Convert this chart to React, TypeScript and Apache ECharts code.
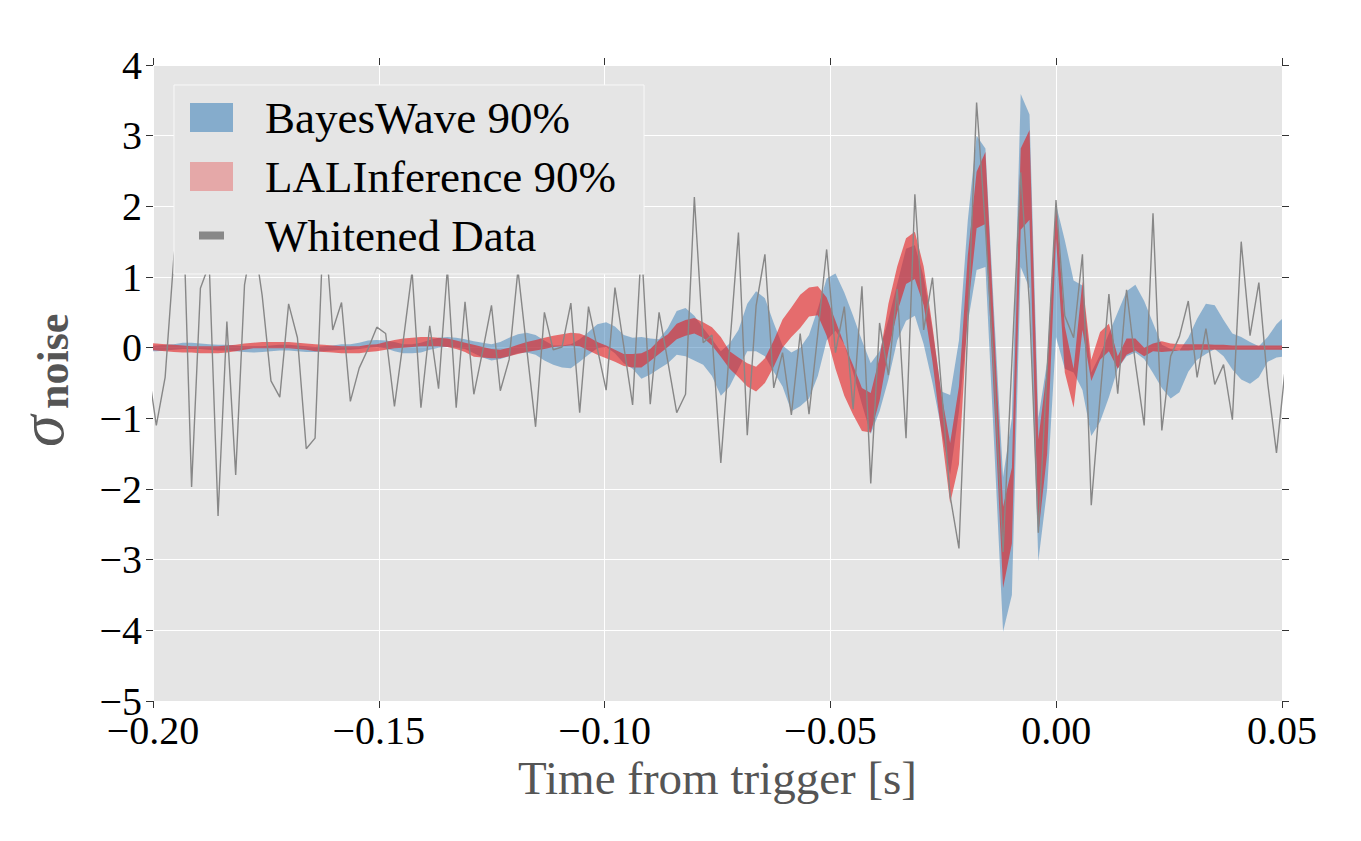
import React, { useEffect, useRef } from "react";
import * as echarts from "echarts";

// Sampling of the whitened strain time series (one sample every 1/512 s)
const T_START = -0.20122;
const SAMPLE_RATE = 512;

const whitened = [
  -0.23, -1.10, -0.42, 1.30, 2.15, -1.97, 0.84, 1.18, -2.38, 0.37,
  -1.80, 0.89, 1.60, 0.74, -0.47, -0.70, 0.62, 0.14, -1.43, -1.28,
  1.90, 0.25, 0.64, -0.76, -0.29, -0.02, 0.29, 0.20, -0.83, 0.10,
  1.08, -0.85, 0.31, -0.58, 1.12, -0.85, 0.65, -0.66, -0.05, 0.60,
  -0.61, -0.17, 1.10, -0.02, -1.12, 0.50, -0.03, 0.01, 0.63, -0.92,
  0.58, -0.01, -0.60, 0.85, 0.02, -0.81, 1.44, -0.80, 0.50, -0.20,
  -0.92, -0.66, 2.13, 0.07, 0.18, -1.63, 0.00, 1.63, -1.24, 0.59,
  1.32, -0.57, -0.07, -0.95, 0.20, -0.94, 0.20, 1.39, -0.07, 0.58,
  -0.87, 0.87, -1.92, 0.35, -0.39, 0.83, -1.28, 2.17, 0.25, 0.99,
  -0.55, -2.10, -2.84, 0.30, 3.47, 1.70, -0.40, -2.89, -0.20, 2.48,
  0.60, -2.62, -0.30, 2.09, 0.45, 0.14, 1.32, -2.23, -0.70, 0.76,
  -0.65, 0.82, -0.22, -1.10, 1.90, -1.17, -0.12, 0.16, 0.66, -0.42,
  0.27, -0.52, -0.24, -1.02, 1.50, 0.17, 0.92, -0.50, -1.49, -0.28,
];

const bayesWaveLower = [
  -0.05, -0.05, -0.04, -0.03, -0.02, -0.02, -0.02, -0.03, -0.04, -0.04,
  -0.05, -0.06, -0.07, -0.06, -0.05, -0.04, -0.04, -0.05, -0.06, -0.06,
  -0.05, -0.04, -0.03, -0.03, -0.02, 0.00, 0.01, -0.01, -0.05, -0.08,
  -0.08, -0.07, -0.03, 0.00, 0.01, 0.00, -0.02, -0.08, -0.14, -0.18,
  -0.16, -0.12, -0.08, -0.07, -0.10, -0.18, -0.24, -0.28, -0.29, -0.20,
  -0.10, -0.01, 0.01, -0.08, -0.22, -0.30, -0.44, -0.38, -0.30, -0.22,
  -0.10, -0.12, -0.18, -0.24, -0.40, -0.68, -0.55, -0.30, -0.05, -0.05,
  -0.12, -0.34, -0.55, -0.90, -0.83, -0.72, -0.40, 0.10, 0.24, 0.05,
  -0.35, -0.80, -1.22, -0.90, -0.45, 0.10, 0.38, 0.45, 0.05, -0.50,
  -1.15, -1.80, -0.90, 0.35, 1.10, 1.14, -1.40, -4.02, -3.50, 1.14,
  0.84, -3.02, -2.00, 0.15, -0.30, -0.35, -0.60, -1.25, -1.05, -0.70,
  -0.30, -0.12, -0.07, -0.16, -0.36, -0.57, -0.72, -0.63, -0.34, -0.17,
  -0.09, -0.02, -0.12, -0.31, -0.45, -0.51, -0.42, -0.20, -0.14, -0.12,
];

const bayesWaveUpper = [
  0.02, 0.03, 0.04, 0.05, 0.07, 0.07, 0.06, 0.05, 0.04, 0.04,
  0.03, 0.02, 0.02, 0.02, 0.03, 0.04, 0.04, 0.03, 0.02, 0.01,
  0.02, 0.03, 0.05, 0.05, 0.07, 0.10, 0.11, 0.10, 0.08, 0.05,
  0.05, 0.07, 0.11, 0.14, 0.15, 0.14, 0.12, 0.09, 0.07, 0.05,
  0.08, 0.14, 0.19, 0.21, 0.18, 0.10, 0.03, 0.03, 0.05, 0.12,
  0.22, 0.33, 0.36, 0.30, 0.18, 0.14, 0.15, 0.13, 0.12, 0.28,
  0.52, 0.56, 0.45, 0.28, 0.12, -0.05, 0.06, 0.25, 0.62, 0.80,
  0.70, 0.35, 0.03, -0.07, 0.00, 0.18, 0.55, 0.98, 1.05, 0.78,
  0.45, 0.10, -0.22, -0.05, 0.40, 0.90, 1.40, 1.45, 1.00, 0.25,
  -0.62, -0.67, 0.10, 1.80, 3.00, 2.82, 0.45, -1.83, -1.00, 3.59,
  3.30, -1.00, -0.20, 2.03, 1.52, 0.95, 0.88, -0.35, -0.10, 0.20,
  0.50, 0.80, 0.89, 0.66, 0.35, 0.04, -0.02, -0.04, 0.14, 0.41,
  0.62, 0.60, 0.39, 0.20, 0.15, 0.08, 0.02, 0.15, 0.33, 0.45,
];

const lalLower = [
  -0.03, -0.04, -0.05, -0.06, -0.07, -0.07, -0.08, -0.08, -0.08, -0.07,
  -0.05, -0.03, -0.01, -0.01, -0.01, -0.01, -0.01, -0.02, -0.03, -0.05,
  -0.06, -0.07, -0.08, -0.08, -0.08, -0.06, -0.05, -0.03, -0.01, 0.00,
  0.01, 0.02, 0.02, 0.02, 0.01, -0.02, -0.06, -0.13, -0.14, -0.15,
  -0.15, -0.12, -0.09, -0.06, -0.04, -0.02, 0.01, 0.02, 0.03, 0.02,
  -0.04, -0.10, -0.15, -0.20, -0.26, -0.28, -0.28, -0.19, -0.09, 0.01,
  0.12, 0.17, 0.20, 0.14, 0.03, -0.13, -0.30, -0.42, -0.55, -0.62,
  -0.50, -0.27, 0.00, 0.15, 0.28, 0.44, 0.46, 0.17, -0.30, -0.68,
  -0.95, -1.18, -1.20, -0.75, -0.05, 0.50, 0.90, 0.97, 0.60, -0.20,
  -1.20, -2.20, -1.65, 0.50, 1.69, 1.75, -0.80, -3.40, -2.77, 1.67,
  1.81, -2.63, -1.50, 1.55, -0.35, -0.85, 0.25, -0.47, -0.17, -0.05,
  -0.30, -0.10, -0.04, -0.12, -0.05, -0.06, -0.05, -0.04, -0.04, -0.03,
  -0.03, -0.03, -0.03, -0.03, -0.03, -0.03, -0.03, -0.03, -0.03, -0.03,
];

const lalUpper = [
  0.07, 0.06, 0.05, 0.04, 0.03, 0.02, 0.02, 0.02, 0.02, 0.03,
  0.04, 0.06, 0.07, 0.08, 0.08, 0.08, 0.08, 0.07, 0.06, 0.05,
  0.04, 0.03, 0.02, 0.02, 0.02, 0.04, 0.05, 0.08, 0.11, 0.13,
  0.14, 0.15, 0.15, 0.14, 0.13, 0.10, 0.07, 0.04, 0.01, -0.02,
  -0.03, 0.00, 0.04, 0.08, 0.11, 0.14, 0.17, 0.19, 0.21, 0.20,
  0.15, 0.08, 0.03, -0.03, -0.09, -0.09, -0.08, -0.02, 0.11, 0.19,
  0.34, 0.39, 0.42, 0.36, 0.29, 0.15, -0.05, -0.14, -0.22, -0.27,
  -0.15, 0.10, 0.40, 0.57, 0.75, 0.85, 0.87, 0.71, 0.38, 0.05,
  -0.25, -0.57, -0.64, -0.14, 0.62, 1.15, 1.55, 1.64, 1.15, 0.30,
  -0.65, -1.35, -0.55, 1.30, 2.49, 2.77, 0.25, -2.25, -1.70, 2.82,
  3.08, -1.30, -0.30, 2.06, 0.30, -0.30, 0.94, -0.17, 0.22, 0.34,
  -0.12, 0.13, 0.13, 0.00, 0.06, 0.09, 0.06, 0.05, 0.05, 0.05,
  0.05, 0.04, 0.04, 0.03, 0.03, 0.03, 0.03, 0.03, 0.03, 0.03,
];

const X_MIN = -0.2;
const X_MAX = 0.05;
const X_STEP = 0.05;
const Y_MIN = -5;
const Y_MAX = 4;
const Y_STEP = 1;

const SERIES_NAMES = ["BayesWave 90%", "LALInference 90%", "Whitened Data"];
const X_TITLE = "Time from trigger [s]";

const FONT = '"Liberation Serif", "DejaVu Serif", serif';

const minus = (s: string) => s.replace("-", "\u2212");

export default function App() {
  const ref = useRef<HTMLDivElement>(null);

  useEffect(() => {
    if (!ref.current) return;
    const chart = echarts.init(ref.current, undefined, { renderer: "svg" });

    const times = whitened.map((_, i) => T_START + i / SAMPLE_RATE);
    const pair = (vals: number[]) => vals.map((v, i) => [times[i], v]);

    const band = (name: string, lower: number[], upper: number[], fill: string) => ({
      name,
      type: "custom",
      coordinateSystem: "cartesian2d",
      clip: true,
      silent: true,
      z: 2,
      itemStyle: { color: fill },
      encode: { x: 0, y: [1, 2] },
      data: times.map((t, i) => [t, lower[i], upper[i]]),
      renderItem: (params: any, api: any) => {
        if (params.dataIndex !== 0) return null;
        const pts: number[][] = [];
        for (let i = 0; i < times.length; i++) pts.push(api.coord([times[i], upper[i]]));
        for (let i = times.length - 1; i >= 0; i--) pts.push(api.coord([times[i], lower[i]]));
        const cs = params.coordSys;
        return {
          type: "polygon",
          shape: { points: pts },
          style: { fill, stroke: "none" },
          clipPath: { type: "rect", shape: { x: cs.x, y: cs.y, width: cs.width, height: cs.height } },
        };
      },
    });

    const tickStyle = { show: true, length: 7, inside: false, lineStyle: { color: "#333", width: 1 } };

    const xBase = {
      type: "value" as const,
      min: X_MIN,
      max: X_MAX,
      interval: X_STEP,
      axisLine: { show: false, onZero: false },
      axisTick: tickStyle,
    };
    const yBase = {
      type: "value" as const,
      min: Y_MIN,
      max: Y_MAX,
      interval: Y_STEP,
      axisLine: { show: false, onZero: false },
      axisTick: tickStyle,
    };

    chart.setOption({
      animation: false,
      backgroundColor: "#ffffff",
      grid: {
        left: 153,
        right: 79,
        top: 65,
        bottom: 140,
        show: true,
        backgroundColor: "#e5e5e5",
        borderWidth: 0,
      },
      xAxis: [
        {
          ...xBase,
          position: "bottom",
          name: X_TITLE,
          nameLocation: "middle",
          nameGap: 50,
          nameTextStyle: { fontFamily: FONT, fontSize: 47, color: "#555555" },
          axisLabel: {
            margin: 16,
            fontFamily: FONT,
            fontSize: 40,
            lineHeight: 26,
            color: "#000",
            formatter: (v: number) => minus(v.toFixed(2)),
          },
          splitLine: { show: true, lineStyle: { color: "#ffffff", width: 1 } },
        },
        {
          ...xBase,
          position: "top",
          axisLabel: { show: false },
          splitLine: { show: false },
        },
      ],
      yAxis: [
        {
          ...yBase,
          position: "left",
          axisLabel: {
            margin: 11,
            fontFamily: FONT,
            fontSize: 40,
            lineHeight: 26,
            color: "#000",
            formatter: (v: number) => minus(String(v)),
          },
          splitLine: { show: true, lineStyle: { color: "#ffffff", width: 1 } },
        },
        {
          ...yBase,
          position: "right",
          axisLabel: { show: false },
          splitLine: { show: false },
        },
      ],
      legend: {
        left: 174,
        top: 85,
        z: 10,
        orient: "vertical",
        padding: [10, 28, 16, 16],
        itemGap: 14,
        itemWidth: 43,
        itemHeight: 29,
        backgroundColor: "#e5e5e5",
        borderColor: "#f8f8f8",
        borderWidth: 1,
        selectedMode: false,
        textStyle: {
          fontFamily: FONT,
          fontSize: 45,
          color: "#000",
          lineHeight: 45,
          padding: [0, 0, 0, 27],
        },
        itemStyle: { borderWidth: 0 },
        data: [
          {
            name: SERIES_NAMES[0],
            icon: "rect",
            itemStyle: { color: "rgba(55,126,184,0.55)", opacity: 1, borderWidth: 0 },
          },
          {
            name: SERIES_NAMES[1],
            icon: "rect",
            itemStyle: { color: "rgba(228,26,28,0.3)", opacity: 1, borderWidth: 0 },
          },
          {
            name: SERIES_NAMES[2],
            icon: "path://M0,0L0,0M9,10.5L34,10.5L34,18.5L9,18.5ZM43,29L43,29",
            itemStyle: { color: "#888888", opacity: 1, borderWidth: 0 },
          },
        ],
      },
      graphic: [
        {
          type: "group",
          x: 41,
          y: 447,
          rotation: Math.PI / 2,
          silent: true,
          children: [
            {
              type: "text",
              x: 0,
              y: 0,
              style: {
                text: "σ",
                fontFamily: FONT,
                fontSize: 64,
                fontStyle: "italic",
                fill: "#555555",
                align: "left",
                verticalAlign: "middle",
                textAlign: "left",
                textVerticalAlign: "middle",
              },
            },
            {
              type: "text",
              x: 38,
              y: 12,
              style: {
                text: "noise",
                fontFamily: FONT,
                fontSize: 44,
                fontWeight: "bold",
                fill: "#555555",
                align: "left",
                verticalAlign: "middle",
                textAlign: "left",
                textVerticalAlign: "middle",
              },
            },
          ],
        },
      ],
      series: [
        band(SERIES_NAMES[0], bayesWaveLower, bayesWaveUpper, "rgba(55,126,184,0.5)"),
        band(SERIES_NAMES[1], lalLower, lalUpper, "rgba(228,26,28,0.6)"),
        {
          name: SERIES_NAMES[2],
          type: "line",
          data: pair(whitened),
          symbol: "none",
          clip: true,
          lineStyle: { color: "#878787", width: 1.4 },
          itemStyle: { color: "#878787" },
          silent: true,
          z: 2,
        },
      ],
    });

    return () => chart.dispose();
  }, []);

  return (
    <div
      ref={ref}
      style={{ position: "fixed", left: 0, top: 0, width: 1361, height: 841, background: "#fff" }}
    />
  );
}
